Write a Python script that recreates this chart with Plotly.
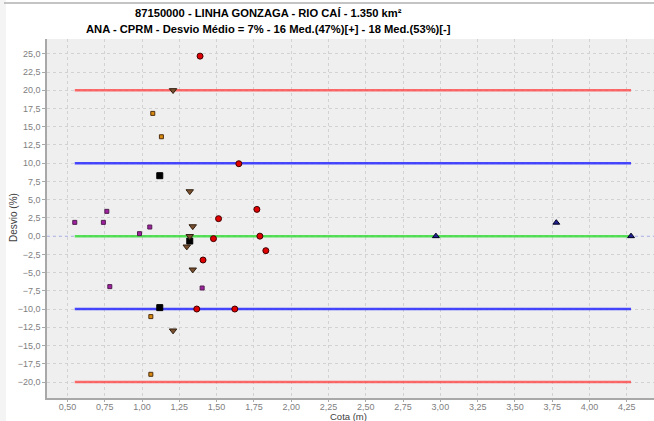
import plotly.graph_objects as go

# Deviation (%) of each gauging relative to the rating curve, by stage (m)
roxo_x = [0.549, 0.741, 0.764, 0.983, 1.052, 0.784, 1.403]
roxo_y = [1.89, 1.89, 3.40, 0.34, 1.25, -6.92, -7.11]

laranja_x = [1.072, 1.130, 1.059, 1.059]
laranja_y = [16.83, 13.63, -11.03, -18.94]

preto_x = [1.119, 1.119, 1.320]
preto_y = [8.29, -9.80, -0.67]

marrom_x = [1.208, 1.320, 1.340, 1.320, 1.300, 1.340, 1.208]
marrom_y = [20.0, 6.14, 1.34, 0.0, -1.44, -4.59, -12.95]

vermelho_x = [1.389, 1.649, 1.770, 1.513, 1.479, 1.790, 1.830, 1.409, 1.367, 1.622]
vermelho_y = [24.68, 9.93, 3.67, 2.40, -0.34, 0.0, -1.99, -3.27, -9.99, -9.99]

azul_x = [2.970, 3.777, 4.278]
azul_y = [0.0, 1.85, 0.0]

# Reference bands (%)
limites = [20, 10, 0, -10, -20]
cores_limites = ["rgba(255,60,60,0.75)", "rgba(40,40,255,0.85)", "rgba(60,220,60,0.85)",
                 "rgba(40,40,255,0.85)", "rgba(255,60,60,0.75)"]

titulo1 = "87150000 - LINHA GONZAGA - RIO CAÍ - 1.350 km²"
titulo2 = "ANA - CPRM - Desvio Médio = 7% - 16 Med.(47%)[+] - 18 Med.(53%)[-]"

W, H = 654, 421
ML, MR, MT, MB = 47, 0, 39, 23
PW, PH = W - ML - MR, H - MT - MB

def px_x(px):
    return (px - ML) / PW

def px_y(py):
    return (H - MB - py) / PH

todos_x = roxo_x + laranja_x + preto_x + marrom_x + vermelho_x + azul_x
xmin, xmax = min(todos_x), max(todos_x)

fig = go.Figure()

# faint zero line across the whole plot
fig.add_trace(go.Scatter(x=[0.0, 5.0], y=[0, 0], mode="lines",
                         line=dict(color="rgba(150,160,255,0.6)", width=1, dash="dot"),
                         hoverinfo="skip", showlegend=False))

for v, c in zip(limites, cores_limites):
    fig.add_trace(go.Scatter(x=[xmin, xmax], y=[v, v], mode="lines",
                             line=dict(color=c, width=2.5),
                             hoverinfo="skip", showlegend=False))

series = [
    (roxo_x, roxo_y, "square", 4, "#a020a0", "#502050"),
    (laranja_x, laranja_y, "square", 4, "#d88a10", "#503010"),
    (preto_x, preto_y, "square", 6, "#000000", "#000000"),
    (marrom_x, marrom_y, "triangle-down", 6.5, "#7a5030", "#302010"),
    (vermelho_x, vermelho_y, "circle", 6, "#e00000", "#400000"),
    (azul_x, azul_y, "triangle-up", 6, "#202090", "#000020"),
]
for xs, ys, sym, sz, cor, borda in series:
    fig.add_trace(go.Scatter(x=xs, y=ys, mode="markers",
                             marker=dict(symbol=sym, size=sz, color=cor,
                                         line=dict(color=borda, width=1)),
                             showlegend=False))

fonte = "Liberation Sans, Arial, sans-serif"

fig.add_annotation(text="<b>" + titulo1 + "</b>", xref="paper", yref="paper",
                   x=px_x(268), y=px_y(13.5), showarrow=False,
                   xanchor="center", yanchor="middle",
                   font=dict(family=fonte, size=11.2, color="#000000"))
fig.add_annotation(text="<b>" + titulo2 + "</b>", xref="paper", yref="paper",
                   x=px_x(268), y=px_y(28.5), showarrow=False,
                   xanchor="center", yanchor="middle",
                   font=dict(family=fonte, size=11.2, color="#000000"))

# axis titles
fig.add_annotation(text="Cota (m)", xref="paper", yref="paper",
                   x=px_x(348), y=px_y(416.5), showarrow=False,
                   xanchor="center", yanchor="middle",
                   font=dict(family=fonte, size=9.5, color="#404040"))
fig.add_annotation(text="Desvio (%)", xref="paper", yref="paper",
                   x=px_x(13), y=px_y(218), showarrow=False, textangle=-90,
                   xanchor="center", yanchor="middle",
                   font=dict(family=fonte, size=10, color="#404040"))

# window chrome: left side strip and top border
fig.add_shape(type="rect", xref="paper", yref="paper",
              x0=px_x(-2), x1=px_x(6), y0=px_y(H + 2), y1=px_y(-2),
              fillcolor="#f4f4f4", line=dict(width=0), layer="below")
fig.add_shape(type="line", xref="paper", yref="paper",
              x0=px_x(4), x1=px_x(W + 2), y0=px_y(3), y1=px_y(3),
              line=dict(color="#b0b0b0", width=1.5))

fig.update_layout(
    width=W, height=H,
    margin=dict(l=ML, r=MR, t=MT, b=MB, autoexpand=False),
    paper_bgcolor="white",
    plot_bgcolor="#efefef",
    separators=",.",
    showlegend=False,
    font=dict(family=fonte, size=9, color="#808080"),
)

fig.update_xaxes(
    range=[0.363, 4.432], tickmode="linear", tick0=0.5, dtick=0.25,
    tickformat=".2f", showgrid=True, gridcolor="#d2d2d2", griddash="dot",
    gridwidth=1, zeroline=False, showline=True, linecolor="#a8a8a8",
    linewidth=1.5, ticks="outside", ticklen=2, tickcolor="#a8a8a8",
    ticklabelstandoff=-3,
    tickfont=dict(size=9, color="#808080"), automargin=False,
)
fig.update_yaxes(
    range=[-22.19, 27.03], tickmode="linear", tick0=0, dtick=2.5,
    tickformat=".1f", showgrid=True, gridcolor="#d2d2d2", griddash="dot",
    gridwidth=1, zeroline=False, showline=True, linecolor="#a8a8a8",
    linewidth=1.5, ticks="outside", ticklen=3, tickcolor="#a8a8a8",
    tickfont=dict(size=9, color="#808080"), automargin=False,
)

fig.write_html("out.html")
